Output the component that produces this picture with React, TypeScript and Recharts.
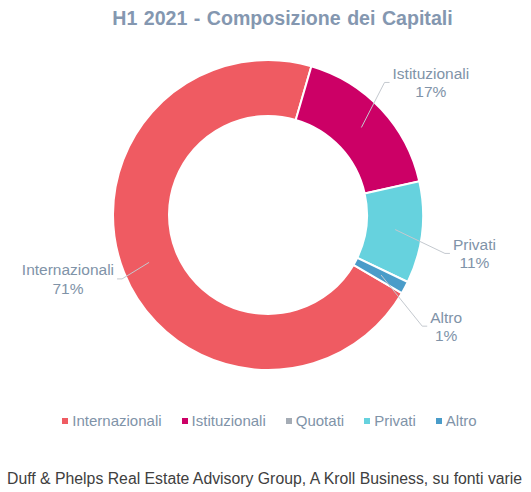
import { PieChart, Pie, Cell, Legend } from 'recharts';

const categories = ['Internazionali', 'Istituzionali', 'Quotati', 'Privati', 'Altro'];
const shares = [71.1, 17.0, 0, 10.6, 1.3];
const colors = ['#EF5B62', '#CC0066', '#A5ACB5', '#66D2DE', '#4A9CC9'];

const data = categories.map((name, i) => ({ name, value: shares[i] }));

const labelColor = '#8093A8';
const font = 'Liberation Sans, Arial, sans-serif';
const RADIAN = Math.PI / 180;

let ctx: CanvasRenderingContext2D | null = null;
function textWidth(s: string, size: number) {
  if (!ctx) ctx = document.createElement('canvas').getContext('2d');
  if (!ctx) return s.length * size * 0.5;
  ctx.font = `${size}px "Liberation Sans"`;
  return ctx.measureText(s).width;
}

function renderLabel(props: any) {
  const { cx, cy, midAngle, percent, name, value } = props;
  if (!value) return null;
  const a = (midAngle - 4) * RADIAN;
  const lx = cx + 210 * Math.cos(a);
  const ly = cy - 210 * Math.sin(a);
  const m = midAngle * RADIAN;
  const sx = cx + 128 * Math.cos(m);
  const sy = cy - 128 * Math.sin(m);
  const pct = `${Math.round(percent * 100)}%`;
  const w = Math.max(textWidth(name, 15.5), textWidth(pct, 15.5));
  const right = lx > cx;
  const endX = right ? lx - w / 2 - 3 : lx + w / 2 + 3;
  const elbowX = right ? endX - 5 : endX + 5;
  return (
    <g>
      <polyline
        points={`${sx},${sy} ${elbowX},${ly} ${endX},${ly}`}
        fill="none"
        stroke="#C4C9CF"
        strokeWidth={1}
      />
      <text x={lx} y={ly - 9} textAnchor="middle" dominantBaseline="central"
        fill={labelColor} fontSize={15.5} fontFamily={font}>{name}</text>
      <text x={lx} y={ly + 9.5} textAnchor="middle" dominantBaseline="central"
        fill={labelColor} fontSize={15.5} fontFamily={font}>{pct}</text>
    </g>
  );
}

function renderLegend() {
  return (
    <div style={{ display: 'flex', justifyContent: 'center', fontFamily: font, fontSize: 15, color: labelColor }}>
      {categories.map((c, i) => (
        <div key={c} style={{ display: 'flex', alignItems: 'center', marginRight: i < categories.length - 1 ? 20 : 0 }}>
          <span style={{ width: 6, height: 6, background: colors[i], marginRight: 4, display: 'inline-block' }} />
          <span>{c}</span>
        </div>
      ))}
    </div>
  );
}

export default function App() {
  return (
    <div style={{ position: 'absolute', left: 0, top: 0, width: 531, height: 492, background: '#fff', fontFamily: font }}>
      <div style={{ position: 'absolute', top: 7, left: 17, width: 531, textAlign: 'center', fontSize: 19.6, fontWeight: 'bold', color: '#8497B0', wordSpacing: 1 }}>
        H1 2021 - Composizione dei Capitali
      </div>
      <PieChart width={531} height={492} margin={{ top: 0, right: 0, bottom: 0, left: 0 }}>
        <Pie
          data={data}
          dataKey="value"
          nameKey="name"
          cx={268}
          cy={215}
          innerRadius={99}
          outerRadius={155}
          startAngle={-30.3}
          endAngle={-390.3}
          stroke="#fff"
          strokeWidth={2}
          label={renderLabel}
          labelLine={false}
          isAnimationActive={false}
        >
          {data.map((d, i) => (
            <Cell key={d.name} fill={colors[i]} />
          ))}
        </Pie>
        <Legend content={renderLegend} wrapperStyle={{ position: 'absolute', top: 412, left: 4, width: 531 }} />
      </PieChart>
      <div style={{ position: 'absolute', top: 470, left: 7, fontSize: 15.8, color: '#404040', whiteSpace: 'nowrap' }}>
        Duff &amp; Phelps Real Estate Advisory Group, A Kroll Business, su fonti varie
      </div>
    </div>
  );
}
